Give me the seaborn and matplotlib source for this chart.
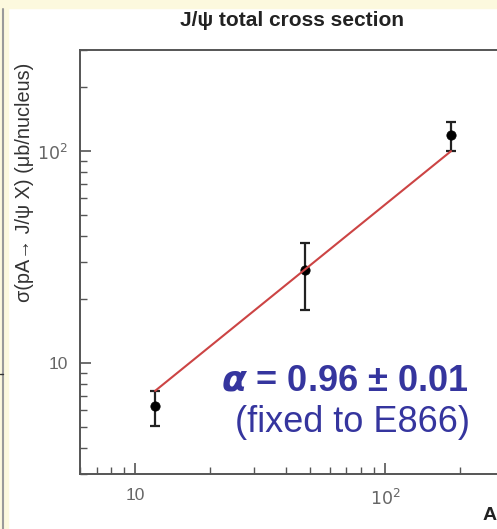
import matplotlib
matplotlib.use("Agg")
import matplotlib.pyplot as plt
import matplotlib.ticker as mticker
from matplotlib.lines import Line2D
from matplotlib.patches import Rectangle
import pandas as pd
import seaborn as sns

# Measured points (mass number A, cross section, asymmetric errors)
nucleus_A = [12, 48, 184]
sigma = [6.25, 27.5, 119]
err_low = [1.2, 9.7, 19]
err_high = [1.15, 9.3, 18]

# Power-law fit line endpoints
fit_A = [12, 184]
fit_sigma = [7.4, 100]

x_ticks = [10, 100]
x_tick_labels = ["10", "$10^2$"]
y_ticks = [10, 100]
y_tick_labels = ["10", "$10^2$"]

df = pd.DataFrame({"A": nucleus_A, "sigma": sigma})
df_fit = pd.DataFrame({"A": fit_A, "sigma": fit_sigma})

sns.set_style("ticks")
plt.rcParams["font.family"] = ["Liberation Sans", "DejaVu Sans"]
plt.rcParams["mathtext.fontset"] = "dejavusans"

W, H = 497, 529
fig = plt.figure(figsize=(W / 100, H / 100), dpi=100)
fig.patch.set_facecolor("white")

# slide decorations: yellow strip and left border
fig.patches.append(Rectangle((0, 1 - 8 / H), 1, 8 / H, transform=fig.transFigure,
                             color="#fcf9de", zorder=0))
fig.patches.append(Rectangle((0, 0), 8 / W, 1, transform=fig.transFigure,
                             color="#fcf9de", zorder=0))
fig.lines.append(Line2D([3 / W, 3 / W], [0, 1 - 9 / H], transform=fig.transFigure,
                        color="#9a9a9a", lw=1.5))
fig.lines.append(Line2D([0, 3 / W], [1 - 374 / H, 1 - 374 / H], transform=fig.transFigure,
                        color="#333333", lw=1))

left, bottom, top, right = 80, 474, 50, 504
ax = fig.add_axes([left / W, 1 - bottom / H, (right - left) / W, (bottom - top) / H])
ax.set_facecolor("white")

ax.set_xscale("log")
ax.set_yscale("log")
ax.set_xlim(6, 300)
ax.set_ylim(3, 300)

ax.errorbar(df["A"], df["sigma"], yerr=[err_low, err_high], fmt="none",
            ecolor="#222222", elinewidth=1.6, capsize=3.5, capthick=1.6, zorder=2)
sns.scatterplot(data=df, x="A", y="sigma", ax=ax, color="black", s=45,
                edgecolor="black", zorder=3)
sns.lineplot(data=df_fit, x="A", y="sigma", ax=ax, color="#cc4444", lw=1.5, zorder=4)

ax.set_xlabel("")
ax.set_ylabel("")

for s in ["left", "bottom", "top"]:
    ax.spines[s].set_color("#555555")
    ax.spines[s].set_linewidth(1.4)
ax.spines["right"].set_visible(False)

ax.xaxis.set_major_locator(mticker.FixedLocator(x_ticks))
ax.xaxis.set_major_formatter(mticker.FixedFormatter(x_tick_labels))
ax.yaxis.set_major_locator(mticker.FixedLocator(y_ticks))
ax.yaxis.set_major_formatter(mticker.FixedFormatter(y_tick_labels))
ax.xaxis.set_minor_locator(mticker.LogLocator(base=10, subs=range(2, 10)))
ax.yaxis.set_minor_locator(mticker.LogLocator(base=10, subs=range(2, 10)))
ax.xaxis.set_minor_formatter(mticker.NullFormatter())
ax.yaxis.set_minor_formatter(mticker.NullFormatter())

ax.tick_params(which="major", direction="in", length=8, width=1.2, color="#555555",
               labelsize=12.5, labelcolor="#666666")
ax.tick_params(which="minor", direction="in", length=5, width=1.0, color="#555555")
ax.tick_params(axis="x", which="major", pad=10)
ax.tick_params(axis="y", which="major", pad=9)

ax.set_title("J/\u03c8 total cross section", fontsize=15, fontweight="bold",
             color="#222222", pad=17)

fig.text(25 / W, 1 - 182 / H, "\u03c3(pA\u2192 J/\u03c8 X) (\u03bcb/nucleus)",
         rotation=90, ha="center", va="center", fontsize=14.3, color="#333333")
fig.text(483 / W, 1 - 516 / H, "A", ha="left", va="center", fontsize=14,
         fontweight="bold", color="#222222")

blue = "#35359e"
ax.text(0.625, 0.198, r"$\mathbfit{\alpha}$ = 0.96 " + "\u00b1" + " 0.01",
        transform=ax.transAxes, ha="center", va="baseline", fontsize=26,
        fontweight="bold", color=blue)
ax.text(0.643, 0.10, "(fixed to E866)", transform=ax.transAxes, ha="center",
        va="baseline", fontsize=26, color=blue)

fig.savefig("out.png", dpi=100)
